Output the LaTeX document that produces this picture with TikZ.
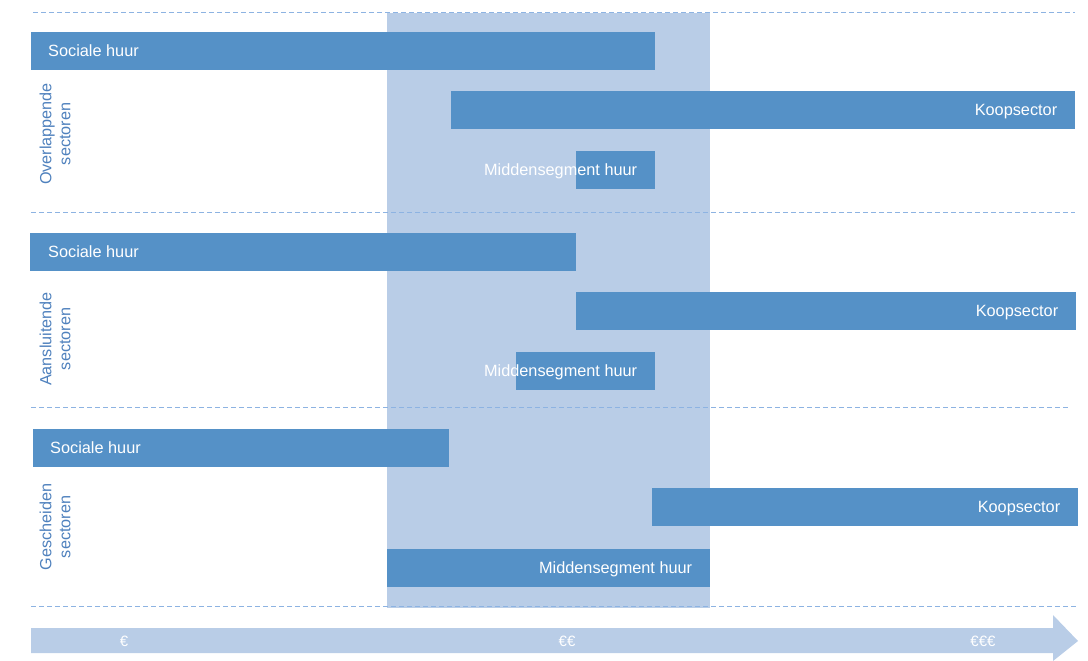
\documentclass[tikz,border=0pt]{standalone}
\usepackage{fontspec}
\setmainfont{Liberation Sans}
\usetikzlibrary{positioning}
\definecolor{barblue}{HTML}{5591C7}
\definecolor{bandblue}{HTML}{B9CDE7}
\definecolor{lineblue}{HTML}{8DB3E2}
\definecolor{labelblue}{HTML}{4F81BD}
\begin{document}
\begin{tikzpicture}[x=1pt,y=-1pt,
  bar/.style={fill=barblue, inner sep=0pt, minimum height=38pt, anchor=west},
  bartext/.style={text=white, inner sep=0pt, text height=11.6pt, text depth=0pt, font=\fontsize{16.3}{18}\selectfont},
  sector/.style={text=labelblue, rotate=90, align=center, inner sep=0pt, font=\fontsize{16.2}{19}\selectfont},
  divider/.style={lineblue, line width=1pt, dash pattern=on 5pt off 3pt},
  euro/.style={text=white, inner sep=0pt, font=\fontsize{15}{17}\selectfont}]
\useasboundingbox (0,0) rectangle (1088,661);

% middle price band
\fill[bandblue] (387,13) rectangle (710,608);

\coordinate (d1a) at (33,13);  \coordinate (d1b) at (1075,13);
\coordinate (d2a) at (31,212); \coordinate (d2b) at (1075,212);
\coordinate (d3a) at (31,407); \coordinate (d3b) at (1068,407);
\coordinate (d4a) at (31,606); \coordinate (d4b) at (1078,606);
\draw[divider] (d1a) -- (d1b);
\draw[divider] (d2a) -- (d2b);
\draw[divider] (d3a) -- (d3b);
\draw[divider] (d4a) -- (d4b);

% overlappend
\node[bar, minimum width=624pt] (soc1) at (31,51) {};
\node[bar, minimum width=624pt] (koop1) at (451,110) {};
\node[bar, minimum width=79pt] (mid1) at (576,170) {};
\node[bartext, anchor=west] (socT1) at ([xshift=17pt]soc1.west) {Sociale huur};
\node[bartext, anchor=east] (koopT1) at ([xshift=-18pt]koop1.east) {Koopsector};
\node[bartext, anchor=east] (midT1) at ([xshift=-18pt]mid1.east) {Middensegment huur};
\node[sector] (over) at (55,134) {Overlappende\\sectoren};

% aansluitend
\node[bar, minimum width=546pt] (soc2) at (30,252) {};
\node[bar, minimum width=500pt] (koop2) at (576,311) {};
\node[bar, minimum width=139pt] (mid2) at (516,371) {};
\node[bartext, anchor=west] (socT2) at ([xshift=18pt]soc2.west) {Sociale huur};
\node[bartext, anchor=east] (koopT2) at ([xshift=-18pt]koop2.east) {Koopsector};
\node[bartext, anchor=east] (midT2) at ([xshift=-18pt]mid2.east) {Middensegment huur};
\node[sector] (aans) at (55,339) {Aansluitende\\sectoren};

% gescheiden
\node[bar, minimum width=416pt] (soc3) at (33,448) {};
\node[bar, minimum width=426pt] (koop3) at (652,507) {};
\node[bar, minimum width=323pt] (mid3) at (387,568) {};
\node[bartext, anchor=west] (socT3) at ([xshift=17pt]soc3.west) {Sociale huur};
\node[bartext, anchor=east] (koopT3) at ([xshift=-18pt]koop3.east) {Koopsector};
\node[bartext, anchor=east] (midT3) at ([xshift=-18pt]mid3.east) {Middensegment huur};
\node[sector] (gesch) at (55,527) {Gescheiden\\sectoren};

% price axis
\fill[bandblue] (31,628) -- (1053,628) -- (1053,615) -- (1078,641)
  -- (1053,661) -- (1053,653) -- (31,653) -- cycle;
\node[euro] (e1) at (124,641) {€};
\node[euro] (e2) at (567,641) {€€};
\node[euro] (e3) at (983,641) {€€€};
\end{tikzpicture}
\end{document}
